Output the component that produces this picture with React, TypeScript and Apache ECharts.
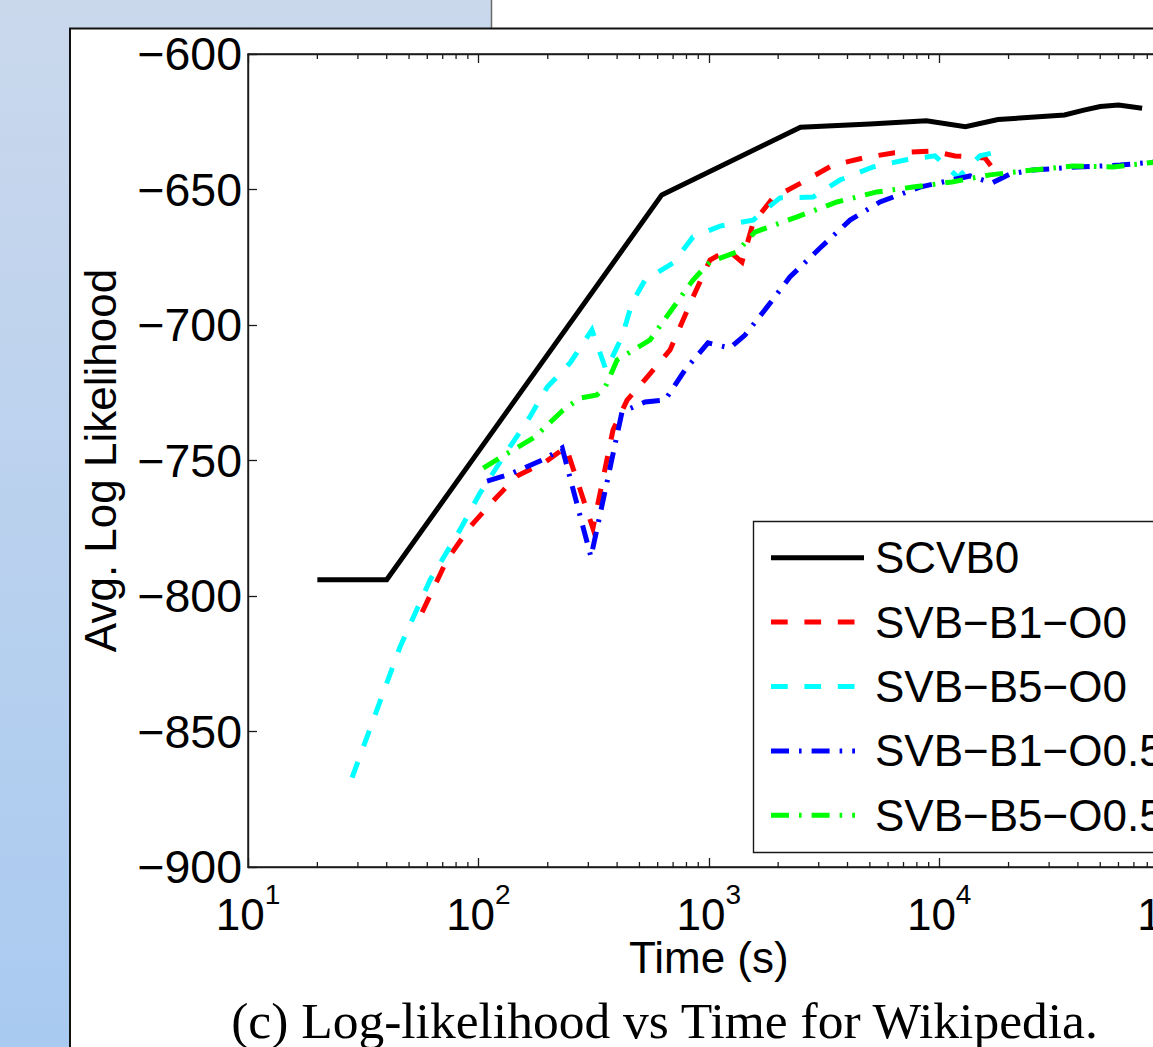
import React, { useEffect, useRef } from 'react';
import * as echarts from 'echarts';

// ---------- data ----------
const seriesNames = ['SCVB0', 'SVB\u2212B1\u2212O0', 'SVB\u2212B5\u2212O0', 'SVB\u2212B1\u2212O0.5', 'SVB\u2212B5\u2212O0.5'];

const scvb0Time = [20, 40, 625, 2500, 5000, 8800, 13000, 18000, 35000, 42000, 50000, 60000, 76000];
const scvb0Ll = [-794, -794, -652, -627, -625.8, -624.6, -626.8, -624.2, -622.5, -620.8, -619.4, -618.8, -620];

const b1o0Time = [57, 73, 92, 118, 147, 195, 240, 314, 384, 442, 540, 679, 773, 854, 1012, 1211, 1393, 1556, 1900, 2564, 3459, 4667, 6302, 9305, 11710, 15810, 17460];
const b1o0Ll = [-806, -786.7, -774.5, -764.2, -755.7, -750.6, -745, -775, -738.7, -727.7, -719.2, -709.2, -698.2, -689.7, -676, -672.3, -676.8, -662.4, -653.1, -647.2, -641, -638.4, -636.5, -635.8, -637.6, -638.4, -643.2];

const b5o0Time = [28.3, 45.7, 61.7, 83.2, 101.6, 137, 167, 199, 250, 311, 358, 420, 464, 529, 700, 854, 1118, 1556, 2037, 2831, 3707, 5162, 7105, 9590, 12070, 15030, 17120];
const b5o0Ll = [-867, -818.8, -794.1, -775.6, -762, -745, -734, -722.9, -714, -701.8, -716.6, -704.4, -691.9, -683.4, -677.1, -667.5, -663.5, -661.3, -653.1, -652.8, -646.5, -641.7, -639.1, -637.6, -645.5, -637.6, -636.5];

const b1o05Time = [109, 137, 194.5, 231, 308, 420, 529, 646, 788, 992, 1236, 1436, 1789, 2249, 3039, 4101, 5535, 8255, 13610, 16940, 20280, 25530, 39630, 60950, 95000];
const b1o05Ll = [-757.6, -755, -749.4, -745.4, -785.6, -732.1, -728.4, -727.7, -716.6, -706.6, -708.5, -703.7, -693.4, -682.3, -671.6, -661.3, -654.6, -649.1, -645, -647.6, -644.3, -642.8, -641.7, -641, -639.5];

const b5o05Time = [105, 124, 176, 233, 276, 327, 354, 400, 556, 679, 854, 1012, 1324, 1585, 2415, 3600, 5370, 7690, 11360, 16620, 25530, 38080, 56760, 95000];
const b5o05Ll = [-752.8, -749, -741.3, -731.4, -727, -725.8, -723.2, -712.9, -705.5, -695.2, -683.4, -676.7, -673, -665.7, -660.1, -654.6, -650.9, -649.1, -647.2, -644.6, -642.8, -641.3, -641.7, -639.5];

const xDecades = [1, 2, 3, 4]; // minor ticks 2..9 x 10^n
const minorMultipliers = [2, 3, 4, 5, 6, 7, 8, 9];
const X_MIN = 10;
const X_MAX = 100000;
const Y_MIN = -900;
const Y_MAX = -600;
const Y_STEP = 50;

const captionText = '(c) Log-likelihood vs Time for Wikipedia.';
const xName = 'Time (s)';
const yName = 'Avg. Log Likelihood';

// ---------- layout / style ----------
const CW = 1300;
const CH = 1047;
const SANS = "'Liberation Sans', Arial, Helvetica, sans-serif";
const SERIF = "'Liberation Serif', 'Times New Roman', serif";
const AX = '#1a1a1a';

const colors = ['#000000', '#ff0000', '#00ffff', '#0000ff', '#00ff00'];
const dashed = [16.7, 16.7];
const dashDot = [18, 10, 2.6, 10];
const plotDash: any[] = ['solid', dashed, dashed, dashDot, dashDot];

function pairs(t: number[], v: number[]) {
  return t.map((x, i) => [x, v[i]]);
}

function buildOption() {
  const allData = [
    pairs(scvb0Time, scvb0Ll),
    pairs(b1o0Time, b1o0Ll),
    pairs(b5o0Time, b5o0Ll),
    pairs(b1o05Time, b1o05Ll),
    pairs(b5o05Time, b5o05Ll),
  ];
  const minorTicks: number[][] = [];
  xDecades.forEach((n) => minorMultipliers.forEach((k) => minorTicks.push([k * Math.pow(10, n), Y_MIN])));

  const lineSeries = allData.map((d, i) => ({
    type: 'line',
    name: seriesNames[i],
    data: d,
    showSymbol: false,
    symbol: 'none',
    smooth: false,
    z: 3 + i,
    lineStyle: { color: colors[i], width: 5, type: plotDash[i], cap: 'butt', join: 'miter' },
  }));

  const legendX1 = 771;
  const legendRowsY = [557.7, 622.1, 686.5, 750.9, 815.3];
  const legendX2 = [864, 856, 856, 855, 855];
  const legendEls: any[] = [
    {
      type: 'rect',
      z: 50,
      shape: { x: 753.5, y: 521.5, width: 600, height: 331 },
      style: { fill: '#fff', stroke: AX, lineWidth: 1.4 },
    },
  ];
  seriesNames.forEach((n, i) => {
    legendEls.push({
      type: 'line',
      z: 51,
      shape: { x1: legendX1, y1: legendRowsY[i], x2: legendX2[i], y2: legendRowsY[i] },
      style: {
        stroke: colors[i],
        lineWidth: 5,
        lineDash: i === 0 ? null : i < 3 ? dashed : dashDot,
        lineCap: 'butt',
      },
    });
    legendEls.push({
      type: 'text',
      z: 51,
      x: 875,
      y: legendRowsY[i],
      style: { text: n, fontSize: 44, fontFamily: SANS, fill: '#000', verticalAlign: 'middle', align: 'left' },
    });
  });

  const bgEls: any[] = [
    {
      type: 'rect',
      z: -100,
      shape: { x: 0, y: 0, width: 491, height: CH },
      style: {
        fill: new echarts.graphic.LinearGradient(0, 0, 0, 1, [
          { offset: 0, color: '#cad8ec' },
          { offset: 1, color: '#a9caf0' },
        ]),
      },
    },
    { type: 'rect', z: -100, shape: { x: 491, y: 0, width: CW, height: 28 }, style: { fill: '#ffffff' } },
    { type: 'line', z: -99, shape: { x1: 491.5, y1: 0, x2: 491.5, y2: 28 }, style: { stroke: '#6b6b6b', lineWidth: 1.5 } },
    {
      type: 'rect',
      z: -98,
      shape: { x: 70, y: 28.5, width: CW, height: 1200 },
      style: { fill: '#ffffff', stroke: '#111', lineWidth: 2 },
    },
    {
      type: 'text',
      z: 10,
      x: 664.5,
      y: 1020,
      style: { text: captionText, fontSize: 51.5, fontFamily: SERIF, fill: '#000', align: 'center', verticalAlign: 'middle' },
    },
  ];

  const tickStyle = { color: AX, width: 1.3 };

  return {
    animation: false,
    backgroundColor: 'transparent',
    grid: {
      left: 248,
      right: CW - 1169.6,
      top: 54,
      bottom: CH - 867,
      show: true,
      borderColor: AX,
      borderWidth: 1.4,
      backgroundColor: 'transparent',
    },
    xAxis: [
      {
        type: 'log',
        logBase: 10,
        min: X_MIN,
        max: X_MAX,
        position: 'bottom',
        axisLine: { show: true, lineStyle: { color: AX, width: 1.4 } },
        axisTick: { show: true, inside: true, length: 9, lineStyle: tickStyle },
        splitLine: { show: false },
        axisLabel: {
          show: true,
          margin: 13,
          showMinLabel: true,
          showMaxLabel: true,
          formatter: (v: number) => `{b|10}{s|${Math.round(Math.log10(v))}}`,
          rich: {
            b: { fontSize: 44, fontFamily: SANS, color: '#000' },
            s: { fontSize: 28, fontFamily: SANS, color: '#000', padding: [0, 0, 41, 0] },
          },
        },
        name: xName,
        nameLocation: 'middle',
        nameGap: 68,
        nameMoveOverlap: false,
        nameTextStyle: { fontSize: 44, fontFamily: SANS, color: '#000' },
      },
      {
        type: 'log',
        logBase: 10,
        min: X_MIN,
        max: X_MAX,
        position: 'top',
        axisLine: { show: true, lineStyle: { color: AX, width: 1.4 } },
        axisTick: { show: true, inside: true, length: 9, lineStyle: tickStyle },
        splitLine: { show: false },
        axisLabel: { show: false },
      },
    ],
    yAxis: {
      type: 'value',
      min: Y_MIN,
      max: Y_MAX,
      interval: Y_STEP,
      axisLine: { show: true, lineStyle: { color: AX, width: 1.4 } },
      axisTick: { show: true, inside: true, length: 9, lineStyle: tickStyle },
      splitLine: { show: false },
      axisLabel: {
        margin: 6,
        fontSize: 46.5,
        fontFamily: SANS,
        color: '#000',
        formatter: (v: number) => String(v).replace('-', '\u2212'),
      },
      name: yName,
      nameLocation: 'middle',
      nameRotate: 90,
      nameGap: 126,
      nameTextStyle: { fontSize: 44, fontFamily: SANS, color: '#000' },
    },
    series: [
      ...lineSeries,
      {
        type: 'custom',
        name: 'minorTicks',
        silent: true,
        clip: false,
        z: 10,
        data: minorTicks,
        encode: { x: 0, y: 1 },
        renderItem: (params: any, api: any) => {
          const x = api.value(0);
          const b = api.coord([x, Y_MIN]);
          const t = api.coord([x, Y_MAX]);
          return {
            type: 'group',
            children: [
              { type: 'line', shape: { x1: b[0], y1: b[1], x2: b[0], y2: b[1] - 5 }, style: { stroke: AX, lineWidth: 1.3 } },
              { type: 'line', shape: { x1: t[0], y1: t[1], x2: t[0], y2: t[1] + 5 }, style: { stroke: AX, lineWidth: 1.3 } },
            ],
          };
        },
      },
    ],
    graphic: { elements: [...bgEls, ...legendEls] },
  };
}

export default function App() {
  const ref = useRef<HTMLDivElement>(null);
  useEffect(() => {
    if (!ref.current) return;
    const chart = echarts.init(ref.current, null, { renderer: 'svg' });
    chart.setOption(buildOption() as any);
    return () => chart.dispose();
  }, []);
  return (
    <div style={{ position: 'fixed', left: 0, top: 0, width: 1153, height: 1047, overflow: 'hidden', background: '#fff' }}>
      <div ref={ref} style={{ width: CW, height: CH }} />
    </div>
  );
}
